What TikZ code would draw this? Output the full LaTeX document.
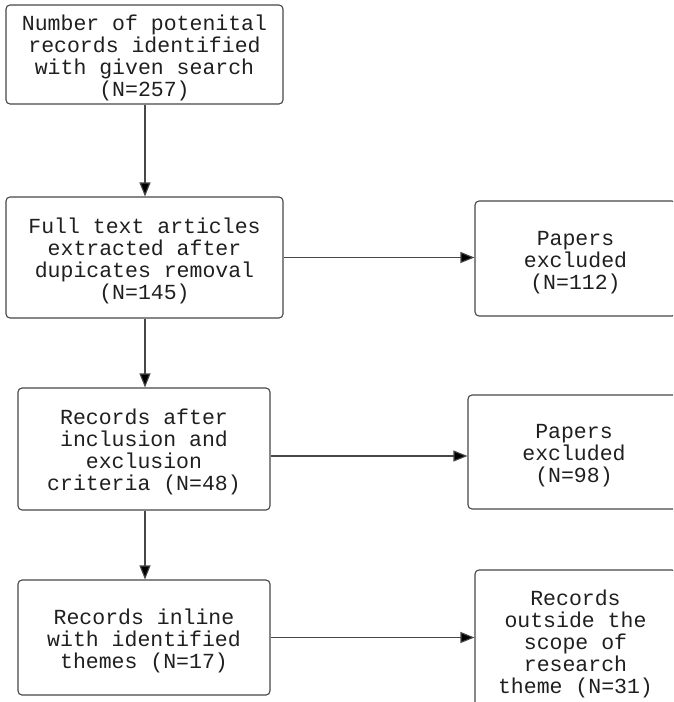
\documentclass[tikz,border=0pt]{standalone}
\usepackage{fontspec}
\newfontfamily\monof{Liberation Mono}
\newcommand\topfix{\rule{0pt}{22pt}}
\usetikzlibrary{arrows.meta,calc}
\tikzset{
  box/.style={draw=black!72, rounded corners=4pt, line width=1.1pt, align=center, text=black!88,
    font=\monof\fontsize{21.5pt}{22pt}\selectfont, inner sep=0pt},
  arr/.style={draw=black!72, line width=1.1pt, -{Triangle[length=14pt,width=11pt,fill=black]}}
}
\begin{document}
\begin{tikzpicture}[x=1pt,y=-1pt]
\useasboundingbox (0,0) rectangle (673,702);
\clip (0,0) rectangle (673,702);
\node[box, minimum width=277pt, minimum height=99pt] (b1) at (144.5,54.5)
  {\topfix Number of potenital\\records identified\\with given search\\(N=257)};
\node[box, minimum width=277pt, minimum height=121pt] (b2) at (144.5,257.5)
  {\topfix Full text articles\\extracted after\\dupicates removal\\(N=145)};
\node[box, minimum width=201pt, minimum height=115pt] (b3) at (575.5,258.5)
  {\topfix Papers\\excluded\\(N=112)};
\node[box, minimum width=252pt, minimum height=122pt] (b4) at (144,449)
  {\topfix Records after\\inclusion and\\exclusion\\criteria (N=48)};
\node[box, minimum width=212pt, minimum height=114pt] (b5) at (574,452)
  {\topfix Papers\\excluded\\(N=98)};
\node[box, minimum width=252pt, minimum height=115pt] (b6) at (144,637.5)
  {\topfix Records inline\\with identified\\themes (N=17)};
\node[box, minimum width=201pt, minimum height=142pt] (b7) at (575.5,641)
  {\topfix Records\\outside the\\scope of\\research\\theme (N=31)};
\draw[arr] ([xshift=0.5pt]b1.south) -- ([xshift=0.5pt]b2.north);
\draw[arr] ([xshift=0.5pt]b2.south) -- ([xshift=0.5pt]b2.south |- b4.north);
\draw[arr] ([xshift=1pt]b4.south) -- ([xshift=1pt]b4.south |- b6.north);
\draw[arr] (b2.east) -- (b2.east -| b3.west);
\draw[arr] ([yshift=-7pt]b4.east) -- ([yshift=-7pt]b4.east -| b5.west);
\draw[arr] (b6.east) -- (b6.east -| b7.west);
\end{tikzpicture}
\end{document}
